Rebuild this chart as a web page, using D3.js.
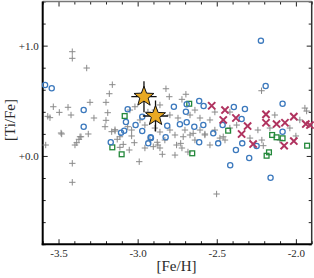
<!DOCTYPE html>
<html><head><meta charset="utf-8">
<script src="https://cdn.jsdelivr.net/npm/d3@7"></script>
<style>body{margin:0;background:#fff}svg{display:block}</style>
</head><body>
<script>
// [Fe/H], [Ti/Fe]
const plusPts = [
[-3.413,0.945],[-3.413,0.885],[-3.322,0.797],[-3.160,0.646],[-3.533,0.446],[-3.495,0.395],[-3.440,0.441],[-3.421,0.371],
[-3.568,0.359],[-3.554,0.347],[-3.301,0.486],[-3.200,0.486],[-3.179,0.564],[-3.276,0.344],[-3.189,0.392],[-3.200,0.323],
[-3.206,0.265],[-3.484,0.208],[-3.364,0.174],[-3.164,0.220],[-3.143,0.238],[-3.049,0.416],[-3.017,0.446],[-3.063,0.265],
[-3.038,0.235],[-3.112,0.174],[-2.821,0.609],[-2.217,0.591],[-2.695,0.559],[-2.800,0.537],[-2.720,0.513],[-1.932,0.407],
[-2.501,-0.345],[-2.206,0.093],[-2.764,0.008],[-2.844,0.015],[-3.581,0.099],[-3.413,-0.067],[-3.413,-0.239],[-3.396,0.099],
[-3.385,0.120],[-3.371,0.151],[-3.358,0.174],[-3.312,0.199],[-3.480,0.199],[-2.990,-0.052],[-3.053,0.054],[-3.129,0.151],
[-3.091,0.105],[-3.112,0.078],[-3.021,0.120],[-3.038,0.181],[-3.143,0.226],
[-2.985,0.326],[-2.954,0.280],[-2.891,0.253],[-2.859,0.217],[-2.922,0.144],[-2.872,0.099],[-2.828,0.144],[-2.796,0.235],
[-2.764,0.190],[-2.701,0.235],[-2.669,0.190],[-2.638,0.144],[-2.606,0.235],[-2.575,0.190],[-2.543,0.099],[-2.512,0.235],
[-2.480,0.162],[-2.796,0.371],[-2.745,0.344],[-2.669,0.371],[-2.606,0.344],[-2.543,0.326],[-2.512,0.398],[-2.448,0.144],
[-2.417,0.253],[-2.859,0.462],[-2.891,0.416],[-2.935,0.398],[-2.638,0.416],[-2.720,0.072],[-2.682,0.036],[-2.859,0.072],
[-2.954,0.072],[-2.290,0.162],[-2.240,0.235],[-2.164,0.253],[-2.038,0.253],[-1.975,0.326],[-1.943,0.434],[-2.000,0.181],
[-2.133,0.371],[-2.417,0.398],[-2.374,0.280],[-2.215,0.144],[-2.101,0.144],[-2.876,0.124],[-2.901,0.084],[-2.712,0.174],
[-2.728,0.114],[-2.649,0.205],[-2.575,0.199],[-2.459,0.174],[-2.754,0.099]
];
const circlePts = [
[-3.585,0.643],[-3.543,0.613],[-3.341,0.416],[-3.341,0.265],[-3.063,0.423],[-3.074,0.308],[-3.085,0.229],[-3.105,0.211],
[-3.013,0.280],[-2.971,0.226],[-2.971,0.356],[-2.918,0.169],[-2.221,1.045],[-2.191,0.634],[-2.084,0.473],[-2.611,0.498],
[-2.583,0.453],[-2.771,0.446],[-2.690,0.468],[-2.695,0.401],[-2.392,0.444],[-2.322,0.425],[-2.343,0.335],[-2.690,0.305],
[-2.733,0.287],[-2.642,0.265],[-2.813,0.274],[-2.585,0.280],[-2.463,0.280],[-2.823,0.169],[-2.522,0.205],[-2.084,0.220],
[-2.611,0.124],[-2.491,0.114],[-2.339,0.114],[-2.379,0.054],[-2.248,0.090],[-2.295,-0.019],[-2.415,-0.085],[-2.160,-0.197],
[-3.170,0.124],[-2.933,0.114],[-2.916,0.162]
];
const squarePts = [
[-3.082,0.362],[-2.674,0.473],[-2.428,0.229],[-2.150,0.190],[-2.122,0.169],[-2.084,0.160],[-2.655,0.024],[-2.185,0.002],
[-2.170,0.033],[-1.929,0.093],[-3.160,0.078],[-3.101,0.015]
];
const crossPts = [
[-2.532,0.455],[-2.448,0.416],[-2.459,0.326],[-2.379,0.344],[-2.305,0.271],[-2.343,0.199],[-2.189,0.377],[-2.189,0.301],
[-2.122,0.289],[-2.069,0.301],[-2.013,0.356],[-1.937,0.289],[-1.911,0.280],[-2.270,0.108],[-2.074,0.093],[-2.013,0.135]
];
const starPts = [[-2.960,0.537],[-2.887,0.362]];
const starErrX = [0.08,0.08];
const starErrY = [0.14,0.14];
const xMajor = [-3.5,-3.0,-2.5,-2.0];
const xMajorLabels = ["-3.5","-3.0","-2.5","-2.0"];
const yMajor = [1.0,0.0];
const yMajorLabels = ["+1.0","+0.0"];
const xLabel = "[Fe/H]", yLabel = "[Ti/Fe]";

const W=314,H=278;
const L=42.7,R=311.7,T=1.5,B=244.2;
const x = d3.scaleLinear().domain([-3.6,-1.9]).range([L,R]);
const y = d3.scaleLinear().domain([-0.8,1.4]).range([B,T]);
const svg = d3.select("body").append("svg").attr("width",W).attr("height",H);
const font = "'Liberation Serif','DejaVu Serif',serif";

const xMinor = d3.range(-3.6,-1.89,0.1).map(v=>+v.toFixed(2)).filter(v=>!xMajor.some(m=>Math.abs(m-v)<1e-6));
const yMinor = d3.range(-0.8,1.41,0.2).map(v=>+v.toFixed(2)).filter(v=>!yMajor.some(m=>Math.abs(m-v)<1e-6));

function addAxis(makeAxis, pos, major, minor, labels){
  const gMaj = svg.append("g").attr("transform",pos).call(makeAxis().tickValues(major).tickSizeInner(-5).tickSizeOuter(0).tickFormat((d,i)=>labels?labels[i]:""));
  const gMin = svg.append("g").attr("transform",pos).call(makeAxis().tickValues(minor).tickSizeInner(-3).tickSizeOuter(0).tickFormat(""));
  [gMaj,gMin].forEach(g=>{g.select(".domain").remove(); g.selectAll("line").attr("stroke","#222").attr("stroke-width",1);});
  gMaj.selectAll("text").attr("font-family",font).attr("font-size",11).attr("fill","#2a2a2a");
  return gMaj;
}
const bx = addAxis(()=>d3.axisBottom(x), `translate(0,${B})`, xMajor, xMinor, xMajorLabels);
bx.selectAll("text").attr("y",5);
addAxis(()=>d3.axisTop(x), `translate(0,${T})`, xMajor, xMinor, null);
const ly = addAxis(()=>d3.axisLeft(y), `translate(${L},0)`, yMajor, yMinor, yMajorLabels);
ly.selectAll("text").attr("x",-4);
addAxis(()=>d3.axisRight(y), `translate(${R},0)`, yMajor, yMinor, null);

// frame
svg.append("line").attr("x1",L).attr("x2",R).attr("y1",T).attr("y2",T).attr("stroke","#777").attr("stroke-width",1.5);
svg.append("line").attr("x1",R).attr("x2",R).attr("y1",T).attr("y2",B).attr("stroke","#333").attr("stroke-width",1.5);
svg.append("line").attr("x1",L).attr("x2",L).attr("y1",T).attr("y2",B+1).attr("stroke","#000").attr("stroke-width",2);
svg.append("line").attr("x1",L-1).attr("x2",R).attr("y1",B).attr("y2",B).attr("stroke","#000").attr("stroke-width",2);

const plot = svg.append("g");
plot.selectAll(".p").data(plusPts).join("path").attr("class","p")
  .attr("d",d=>{const cx=x(d[0]),cy=y(d[1]),s=3.2;return `M${cx-s},${cy}H${cx+s}M${cx},${cy-s}V${cy+s}`;})
  .attr("stroke","#8a8a8a").attr("stroke-width",1).attr("fill","none");
plot.selectAll(".s").data(squarePts).join("rect").attr("class","s")
  .attr("x",d=>x(d[0])-2.4).attr("y",d=>y(d[1])-2.4).attr("width",4.8).attr("height",4.8)
  .attr("fill","none").attr("stroke","#23883a").attr("stroke-width",1.3);
plot.selectAll(".c").data(circlePts).join("circle").attr("class","c")
  .attr("cx",d=>x(d[0])).attr("cy",d=>y(d[1])).attr("r",2.6)
  .attr("fill","none").attr("stroke","#3c79bd").attr("stroke-width",1.3);
plot.selectAll(".x").data(crossPts).join("path").attr("class","x")
  .attr("d",d=>{const cx=x(d[0]),cy=y(d[1]),s=3.6;return `M${cx-s},${cy-s}L${cx+s},${cy+s}M${cx-s},${cy+s}L${cx+s},${cy-s}`;})
  .attr("stroke","#b0335f").attr("stroke-width",2).attr("fill","none");
const starG = plot.selectAll(".st").data(starPts).join("g").attr("class","st");
starG.append("path").attr("d",(d,i)=>{const cx=x(d[0]),cy=y(d[1]);
  return `M${x(d[0]-starErrX[i])},${cy}H${x(d[0]+starErrX[i])}M${cx},${y(d[1]+starErrY[i])}V${y(d[1]-starErrY[i])}`;})
  .attr("stroke","#111").attr("stroke-width",1.3);
const starPath = (cx,cy,ro,ri)=>{let p="";for(let k=0;k<10;k++){const r=k%2?ri:ro;const a=-Math.PI/2+k*Math.PI/5;p+=(k?"L":"M")+(cx+r*Math.cos(a))+","+(cy+r*Math.sin(a));}return p+"Z";};
starG.append("path").attr("d",d=>starPath(x(d[0]),y(d[1]),10.5,4.4))
  .attr("fill","#e9a923").attr("stroke","#111").attr("stroke-width",1);

svg.append("text").attr("x",176.5).attr("y",271).attr("text-anchor","middle")
  .attr("font-family",font).attr("font-size",15).attr("fill","#2a2a2a").text(xLabel);
svg.append("text").attr("transform",`translate(15,120) rotate(-90)`).attr("text-anchor","middle")
  .attr("font-family",font).attr("font-size",15).attr("fill","#2a2a2a").text(yLabel);
</script>
</body></html>
